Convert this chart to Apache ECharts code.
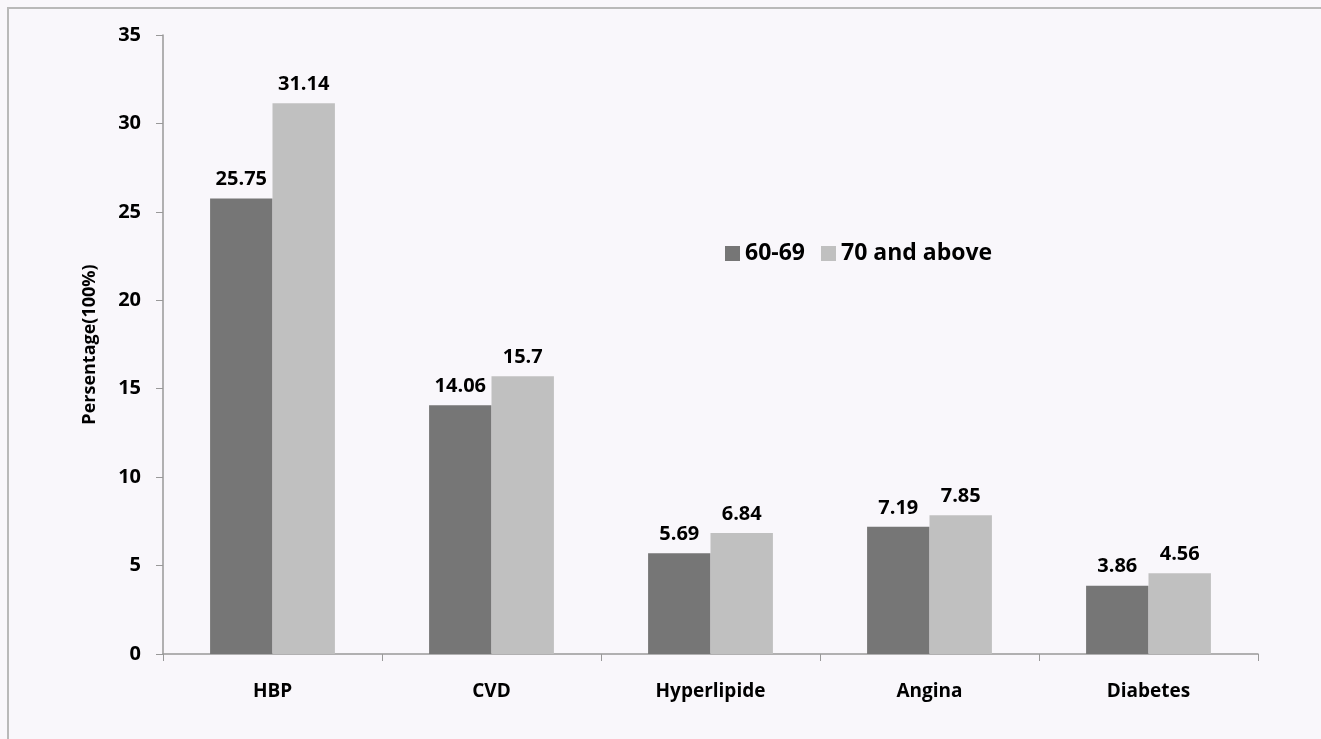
<!DOCTYPE html>
<html>
<head>
<meta charset="utf-8">
<script src="https://cdn.jsdelivr.net/npm/echarts@6/dist/echarts.min.js"></script>
<style>
  html, body { margin: 0; padding: 0; background: #f9f7fb; }
  #frame { position: absolute; left: 7px; top: 7px; width: 1320px; height: 740px; border: 2px solid #b9b9b9; box-sizing: border-box; }
  #chart { width: 1321px; height: 739px; }
</style>
</head>
<body>
<div id="frame"></div>
<div id="chart"></div>
<script>
// 数据
const categories = ['HBP', 'CVD', 'Hyperlipide', 'Angina', 'Diabetes'];
const age6069 = [25.75, 14.06, 5.69, 7.19, 3.86];
const age70up = [31.14, 15.7, 6.84, 7.85, 4.56];
const yTicks = [0, 5, 10, 15, 20, 25, 30, 35];

const font = '"Open Sans", "Noto Sans", sans-serif';
const chart = echarts.init(document.getElementById('chart'));

const labelStyle = {
  show: true,
  position: 'top',
  distance: 9,
  color: '#000',
  fontWeight: 'bold',
  fontSize: 20,
  fontFamily: font
};

chart.setOption({
  backgroundColor: 'transparent',
  animation: false,
  grid: { left: 163, right: 63, top: 35, bottom: 85 },
  legend: {
    left: 720,
    top: 237,
    itemWidth: 15,
    itemHeight: 15,
    itemGap: 16,
    icon: 'rect',
    textStyle: { fontSize: 23, fontWeight: 'bold', color: '#000', fontFamily: font },
    data: ['60-69', '70 and above']
  },
  xAxis: {
    type: 'category',
    data: categories,
    axisLine: { lineStyle: { color: '#999', width: 1.5 } },
    axisTick: { show: true, length: 7, lineStyle: { color: '#999' } },
    axisLabel: { margin: 28, fontSize: 19, fontWeight: 'bold', color: '#000', fontFamily: font }
  },
  yAxis: {
    type: 'value',
    min: yTicks[0],
    max: yTicks[yTicks.length - 1],
    interval: 5,
    name: 'Persentage(100%)',
    nameLocation: 'middle',
    nameGap: 64,
    nameTextStyle: { fontSize: 18, fontWeight: 'bold', color: '#000', fontFamily: font },
    axisLine: { show: true, lineStyle: { color: '#999', width: 1.5 } },
    axisTick: { show: true, length: 7, lineStyle: { color: '#999' } },
    splitLine: { show: false },
    axisLabel: { margin: 22, fontSize: 20, fontWeight: 'bold', color: '#000', fontFamily: font }
  },
  series: [
    {
      name: '60-69',
      type: 'bar',
      data: age6069,
      barGap: '0%',
      barCategoryGap: '43%',
      itemStyle: { color: '#767676' },
      label: labelStyle
    },
    {
      name: '70 and above',
      type: 'bar',
      data: age70up,
      itemStyle: { color: '#c0c0c0' },
      label: labelStyle
    }
  ]
});
</script>
</body>
</html>
